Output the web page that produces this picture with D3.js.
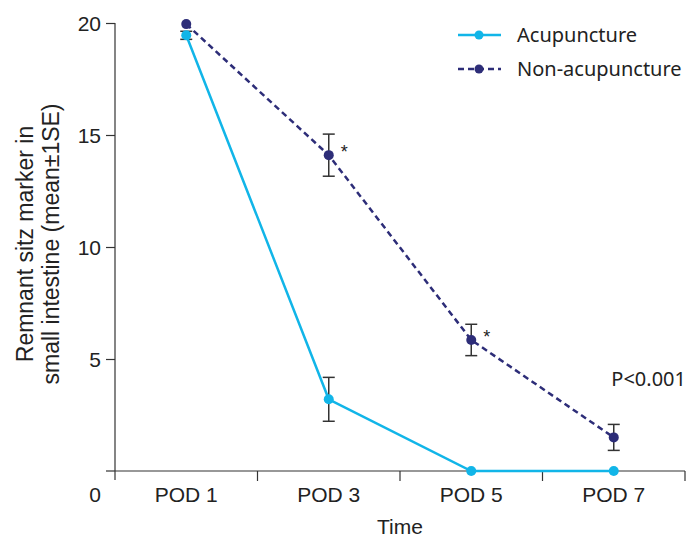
<!DOCTYPE html>
<html>
<head>
<meta charset="utf-8">
<script src="https://cdn.jsdelivr.net/npm/d3@7"></script>
<style>
body { margin: 0; background: #fff; }
</style>
</head>
<body>
<div id="chart"></div>
<script>
// data
var days = ['POD 1', 'POD 3', 'POD 5', 'POD 7'];
var acupuncture = [19.45, 3.2, 0, 0];
var acupunctureSE = [0.18, 0.98, 0, 0];
var nonAcupuncture = [19.95, 14.1, 5.85, 1.5];
var nonAcupunctureSE = [0, 0.94, 0.7, 0.58];
var stars = [false, true, true, false];
var yTicks = [5, 10, 15, 20];

var width = 687, height = 538;
var plotLeft = 115, plotRight = 685, plotTop = 23, plotBottom = 471;
var axisFont = '"Liberation Sans", Arial, sans-serif';
var textFont = '"Noto Sans", sans-serif';

var svg = d3.select('#chart')
	.append('svg')
	.attr('width', width)
	.attr('height', height);

var x = d3.scaleBand().domain(days).range([plotLeft, plotRight]);
var y = d3.scaleLinear().domain([0, 20]).range([plotBottom, plotTop]);

// y axis
var yAxis = svg.append('g')
	.attr('transform', 'translate(' + plotLeft + ',0)')
	.call(d3.axisLeft(y).tickValues(yTicks).tickSize(9).tickSizeOuter(0).tickPadding(5));
yAxis.select('.domain').attr('d', 'M0,' + plotTop + 'V' + plotBottom);
yAxis.append('line').attr('x1', -9).attr('x2', 0).attr('y1', plotBottom).attr('y2', plotBottom);

// x axis, ticks at band edges
var xAxis = svg.append('g')
	.attr('transform', 'translate(0,' + plotBottom + ')');
xAxis.append('line').attr('x1', plotLeft).attr('x2', plotRight);
xAxis.selectAll('.edge')
	.data(days)
	.enter()
	.append('line')
	.attr('x1', function(d){ return x(d) + x.bandwidth(); })
	.attr('x2', function(d){ return x(d) + x.bandwidth(); })
	.attr('y1', 0)
	.attr('y2', 10);
xAxis.append('line').attr('x1', plotLeft).attr('x2', plotLeft).attr('y1', 0).attr('y2', 9);
xAxis.selectAll('.lab')
	.data(days)
	.enter()
	.append('text')
	.text(function(d){ return d; })
	.attr('x', function(d){ return x(d) + x.bandwidth() / 2; })
	.attr('y', 31)
	.attr('text-anchor', 'middle');
xAxis.append('text').text('0').attr('x', 95).attr('y', 31).attr('text-anchor', 'middle');

svg.selectAll('g line, g path.domain').attr('stroke', '#333').attr('stroke-width', 1.2);
svg.selectAll('g text').attr('font-family', axisFont).attr('font-size', 21).attr('fill', '#222');
yAxis.selectAll('.tick text').attr('dy', '0.35em');

// axis titles
svg.append('text')
	.attr('transform', 'translate(33,244) rotate(-90)')
	.attr('text-anchor', 'middle')
	.attr('font-family', axisFont)
	.attr('font-size', 23)
	.attr('fill', '#222')
	.text('Remnant sitz marker in');
svg.append('text')
	.attr('transform', 'translate(59,244) rotate(-90)')
	.attr('text-anchor', 'middle')
	.attr('font-family', axisFont)
	.attr('font-size', 23)
	.attr('fill', '#222')
	.text('small intestine (mean±1SE)');
svg.append('text')
	.attr('x', 400).attr('y', 534)
	.attr('text-anchor', 'middle')
	.attr('font-family', axisFont)
	.attr('font-size', 21)
	.attr('fill', '#222')
	.text('Time');

var cx = function(d, i){ return x(days[i]) + x.bandwidth() / 2; };

function drawErrors(vals, se){
	var g = svg.append('g');
	vals.forEach(function(v, i){
		if (!se[i]) return;
		var px = cx(null, i);
		g.append('line').attr('x1', px).attr('x2', px).attr('y1', y(v + se[i])).attr('y2', y(v - se[i]));
		g.append('line').attr('x1', px - 6).attr('x2', px + 6).attr('y1', y(v + se[i])).attr('y2', y(v + se[i]));
		g.append('line').attr('x1', px - 6).attr('x2', px + 6).attr('y1', y(v - se[i])).attr('y2', y(v - se[i]));
	});
	g.selectAll('line').attr('stroke', '#333').attr('stroke-width', 1.5);
}

var line = d3.line().x(cx).y(function(d){ return y(d); });

var acuColor = '#11b5e8';
var nonColor = '#2d2d78';

drawErrors(nonAcupuncture, nonAcupunctureSE);
drawErrors(acupuncture, acupunctureSE);

svg.append('path')
	.datum(nonAcupuncture)
	.attr('d', line)
	.attr('fill', 'none')
	.attr('stroke', nonColor)
	.attr('stroke-width', 2.5)
	.attr('stroke-dasharray', '6,4');
svg.append('path')
	.datum(acupuncture)
	.attr('d', line)
	.attr('fill', 'none')
	.attr('stroke', acuColor)
	.attr('stroke-width', 2.5);

svg.selectAll('.dotN')
	.data(nonAcupuncture)
	.enter()
	.append('circle')
	.attr('cx', cx)
	.attr('cy', function(d){ return y(d); })
	.attr('r', 5)
	.attr('fill', nonColor);
svg.selectAll('.dotA')
	.data(acupuncture)
	.enter()
	.append('circle')
	.attr('cx', cx)
	.attr('cy', function(d){ return y(d); })
	.attr('r', 5)
	.attr('fill', acuColor);

// significance marks
nonAcupuncture.forEach(function(v, i){
	if (!stars[i]) return;
	svg.append('text')
		.attr('x', cx(v, i) + 12)
		.attr('y', y(v) + 3)
		.attr('font-family', axisFont)
		.attr('font-size', 18)
		.attr('fill', '#222')
		.text('*');
});

svg.append('text')
	.attr('x', 686).attr('y', 386)
	.attr('text-anchor', 'end')
	.attr('font-family', textFont)
	.attr('font-size', 20)
	.attr('fill', '#222')
	.text('P<0.001');

// legend
var legend = [
	{name: 'Acupuncture', color: acuColor, dash: null},
	{name: 'Non-acupuncture', color: nonColor, dash: '6,4'}
];
var lg = svg.selectAll('.legend')
	.data(legend)
	.enter()
	.append('g')
	.attr('transform', function(d, i){ return 'translate(458,' + (35 + i * 34) + ')'; });
lg.append('line')
	.attr('x1', 0).attr('x2', 43)
	.attr('stroke', function(d){ return d.color; })
	.attr('stroke-width', 2.5)
	.attr('stroke-dasharray', function(d){ return d.dash; });
lg.append('circle').attr('cx', 21).attr('r', 4.5).attr('fill', function(d){ return d.color; });
lg.append('text')
	.attr('x', 59).attr('dy', '0.35em')
	.attr('font-family', textFont)
	.attr('font-size', 20)
	.attr('fill', '#222')
	.text(function(d){ return d.name; });
</script>
</body>
</html>
